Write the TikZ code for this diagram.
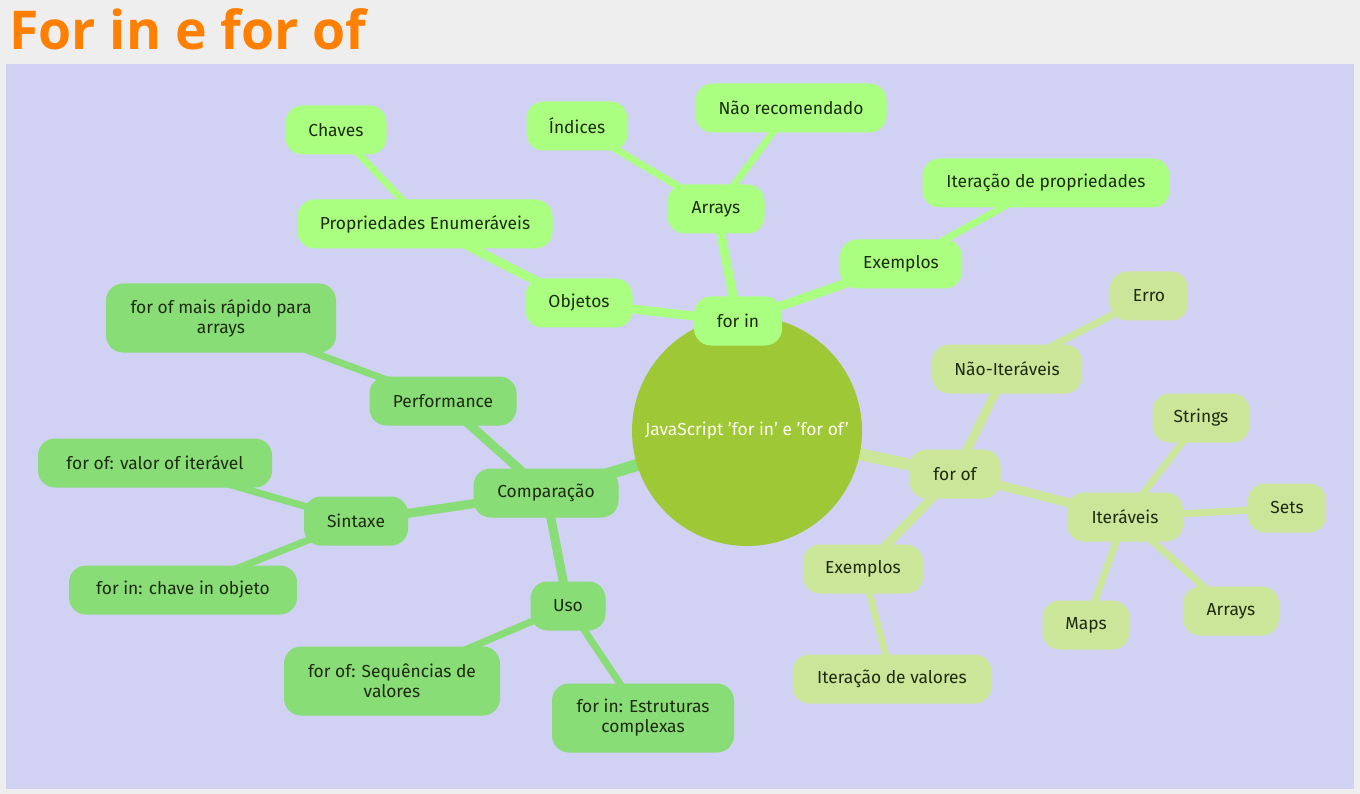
\documentclass[tikz,border=0pt]{standalone}
\usepackage{fontspec}
\setmainfont{Fira Sans}
\newfontfamily\titlefont{Open Sans}
\usetikzlibrary{backgrounds}
\definecolor{bgc}{HTML}{EEEEEE}
\definecolor{panel}{HTML}{D1D1F3}
\definecolor{cin}{HTML}{AAFF80}
\definecolor{ccmp}{HTML}{88DD77}
\definecolor{cof}{HTML}{CCE699}
\definecolor{croot}{HTML}{9EC836}
\definecolor{ttxt}{HTML}{1E2A10}
\definecolor{ctitle}{HTML}{FF8000}
\begin{document}
\begin{tikzpicture}[x=1pt,y=-1pt,
 box/.style={rounded corners=17pt, minimum height=49pt, inner sep=0pt, text=ttxt, font=\fontsize{17.4}{20}\selectfont, align=center},
 fin/.style={box, fill=cin},
 fcmp/.style={box, fill=ccmp},
 fof/.style={box, fill=cof},
 l1/.style={line width=12pt},
 l2/.style={line width=9pt},
 l3/.style={line width=7pt},
]
\useasboundingbox (0,0) rectangle (1360,794);
\begin{pgfonlayer}{background}
\fill[bgc] (0,0) rectangle (1360,794);
\fill[panel] (6,64) rectangle (1354,789);
\end{pgfonlayer}
\node[anchor=base west, text=ctitle, font=\titlefont\bfseries\fontsize{53.5}{60}\selectfont, inner sep=0pt] (title) at (9,50) {For in e for of};

\node[circle, fill=croot, minimum size=230pt, inner sep=0pt, text=white!95!yellow, font=\fontsize{17.4}{20}\selectfont] (root) at (747,431) {JavaScript 'for in' e 'for of'};

% for in branch
\node[fin, minimum width=88pt] (forin) at (738,321) {for in};
\node[fin, minimum width=107pt] (objetos) at (579,303) {Objetos};
\node[fin, minimum width=255pt] (prop) at (425,224) {Propriedades Enumeráveis};
\node[fin, minimum width=101pt] (chaves) at (336,130) {Chaves};
\node[fin, minimum width=97pt] (arrays) at (716,209) {Arrays};
\node[fin, minimum width=101pt] (indices) at (577,126) {Índices};
\node[fin, minimum width=191pt] (naorec) at (791,108) {Não recomendado};
\node[fin, minimum width=122pt] (ex1) at (901,264) {Exemplos};
\node[fin, minimum width=247pt] (iterprop) at (1046,183) {Iteração de propriedades};

% comparacao branch
\node[fcmp, minimum width=145pt] (comp) at (546,493) {Comparação};
\node[fcmp, minimum width=147pt] (perf) at (443,401) {Performance};
\node[fcmp, minimum width=230pt, minimum height=69pt] (fast) at (221,318) {for of mais rápido para\\arrays};
\node[fcmp, minimum width=104pt] (sint) at (356,521) {Sintaxe};
\node[fcmp, minimum width=234pt] (valorof) at (155,463) {for of: valor of iterável};
\node[fcmp, minimum width=228pt] (chavein) at (183,590) {for in: chave in objeto};
\node[fcmp, minimum width=75pt] (uso) at (568,606) {Uso};
\node[fcmp, minimum width=216pt, minimum height=69pt] (seq) at (392,681) {for of: Sequências de\\valores};
\node[fcmp, minimum width=182pt, minimum height=69pt] (estr) at (643,718) {for in: Estruturas\\complexas};

% for of branch
\node[fof, minimum width=91pt] (forof) at (955,474) {for of};
\node[fof, minimum width=150pt] (naoiter) at (1007,369) {Não-Iteráveis};
\node[fof, minimum width=78pt] (erro) at (1149,296) {Erro};
\node[fof, minimum width=116pt] (iter) at (1125,517) {Iteráveis};
\node[fof, minimum width=97pt] (strings) at (1201,418) {Strings};
\node[fof, minimum width=78pt] (sets) at (1287,508) {Sets};
\node[fof, minimum width=96pt] (arrays2) at (1231,611) {Arrays};
\node[fof, minimum width=87pt] (maps) at (1086,625) {Maps};
\node[fof, minimum width=120pt] (ex2) at (863,569) {Exemplos};
\node[fof, minimum width=199pt] (iterval) at (892,679) {Iteração de valores};

\begin{pgfonlayer}{background}
\draw[l1, cin] (root.center) -- (forin.center);
\draw[l1, ccmp] (root.center) -- (comp.center);
\draw[l1, cof] (root.center) -- (forof.center);
\draw[l2, cin] (forin.center) -- (objetos.center);
\draw[l2, cin] (forin.center) -- (arrays.center);
\draw[l2, cin] (forin.center) -- (ex1.center);
\draw[l2, cin] (objetos.center) -- (prop.center);
\draw[l3, cin] (prop.center) -- (chaves.center);
\draw[l3, cin] (arrays.center) -- (indices.center);
\draw[l3, cin] (arrays.center) -- (naorec.center);
\draw[l3, cin] (ex1.center) -- (iterprop.center);
\draw[l2, ccmp] (comp.center) -- (perf.center);
\draw[l2, ccmp] (comp.center) -- (sint.center);
\draw[l2, ccmp] (comp.center) -- (uso.center);
\draw[l3, ccmp] (perf.center) -- (fast.center);
\draw[l3, ccmp] (sint.center) -- (valorof.center);
\draw[l3, ccmp] (sint.center) -- (chavein.center);
\draw[l3, ccmp] (uso.center) -- (seq.center);
\draw[l3, ccmp] (uso.center) -- (estr.center);
\draw[l2, cof] (forof.center) -- (naoiter.center);
\draw[l2, cof] (forof.center) -- (iter.center);
\draw[l2, cof] (forof.center) -- (ex2.center);
\draw[l3, cof] (naoiter.center) -- (erro.center);
\draw[l3, cof] (iter.center) -- (strings.center);
\draw[l3, cof] (iter.center) -- (sets.center);
\draw[l3, cof] (iter.center) -- (arrays2.center);
\draw[l3, cof] (iter.center) -- (maps.center);
\draw[l3, cof] (ex2.center) -- (iterval.center);
\end{pgfonlayer}
\end{tikzpicture}
\end{document}
